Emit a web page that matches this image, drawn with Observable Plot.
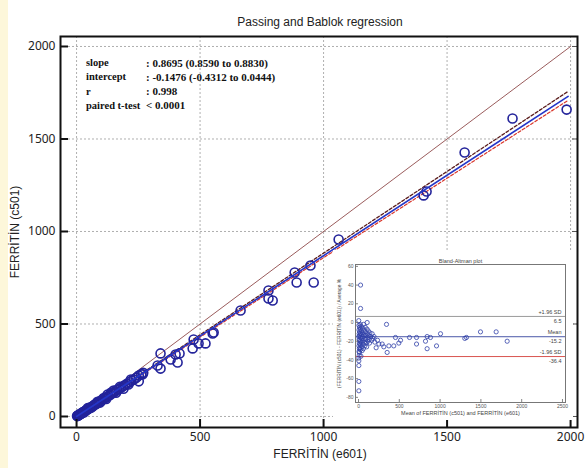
<!DOCTYPE html>
<html><head><meta charset="utf-8">
<script src="https://cdn.jsdelivr.net/npm/d3@7"></script>
<script src="https://cdn.jsdelivr.net/npm/@observablehq/plot@0.6"></script>
<style>
body{margin:0;background:#fff;}
#wrap{position:relative;width:585px;height:468px;overflow:hidden;font-family:Arial,"Liberation Sans",sans-serif;background:#fff;}
#strip{position:absolute;left:0;top:0;width:8px;height:468px;background:#fdf7da;}
.abs{position:absolute;white-space:nowrap;}
#title{left:0;width:640px;top:15px;text-align:center;font-size:12px;color:#222;}
#xlab{left:0;width:640px;top:447px;text-align:center;font-size:12px;color:#222;}
#ylab{left:15px;top:232px;font-size:12px;color:#222;transform:translate(-50%,-50%) rotate(-90deg);}
.st{font-family:"Liberation Serif","Times New Roman",serif;font-weight:bold;font-size:10.5px;color:#111;}
.sv{font-size:11px;}
#inset{position:absolute;left:333px;top:250px;}
</style></head><body><div id="wrap"><div id="strip"></div></div>
<script>
// ---- data ----
const e601 = [2,4,5,7,9,11,12,14,16,18,20,22,25,27,30,33,36,40,43,47,50,54,58,62,66,70,75,80,85,90,95,100,106,112,118,124,130,137,144,150,158,165,172,180,188,196,205,214,222,232,242,252,262,270,
  30,45,60,85,95,110,120,125,140,150,160,175,190,210,220,252,268,
  328,340,340,381,401,409,417,470,474,494,522,551,555,664,777,777,794,883,891,947,960,1061,1405,1417,1571,1765,1984];
const c501 = [2,3,5,6,8,9,11,12,13,15,17,20,21,24,26,28,31,35,36,41,43,47,50,52,57,60,66,68,74,78,81,88,90,97,103,107,112,118,126,130,136,145,148,155,163,170,178,185,193,200,210,221,228,236,
  22,45,48,80,75,100,95,118,130,140,128,160,150,173,200,190,228,
  276,259,341,308,335,292,341,368,416,395,395,449,454,573,681,638,627,778,724,816,724,957,1195,1216,1427,1611,1659];
const statLabels = ["slope","intercept","r","paired t-test"];
const statValues = [":  0.8695 (0.8590 to 0.8830)", ": -0.1476 (-0.4312 to 0.0444)", ": 0.998", "< 0.0001"];
const slope = 0.8695, intercept = -0.1476;
const slopeLo = 0.8590, interceptLo = -0.4312;
const slopeHi = 0.8830, interceptHi = 0.0444;
const lineRange = [0, 1990];
const identityRange = [0, 2000];
const xTicks = [0,500,1000,1500,2000];
const yTicks = [0,500,1000,1500,2000];

// Bland-Altman inset
const baMean = [3,5,6,8,4,7,9,5,10,6,8,4,4,4,12,14,15,13,16,18,12,20,22,24,26,21,28,23,30,32,35,38,40,36,42,45,48,50,53,55,58,60,62,65,68,72,75,78,82,85,88,92,96,100,104,108,112,116,106,120,125,130,135,140,150,160,167,175,190,200,216,233,250,290,310,343,351,372,432,453,494,515,625,711,711,821,841,841,882,956,1005,1303,1323,1495,1687,1822,25,25,4,4];
const baDiff = [2,-3,-8,-12,-15,-18,-22,-25,-28,-31,-35,-38,-41,-46,-5,-10,-14,-19,-23,-27,-32,-2,-7,-12,-16,-20,-24,-29,-36,-4,-9,-13,-17,-21,-26,-30,-6,-11,-15,-19,-23,-28,-2,-8,-13,-17,-21,-25,-5,-10,-14,-18,-22,-26,-7,-12,-16,-20,0,-9,-14,-18,-22,-11,-15,-19,-12,-17,-15,-21,-27,-19,-23,-23,-26,-2,-32,-25,-25,-16,-22,-19,-16,-16,-23,-20,-15,-28,-16,-25,-12,-17,-16,-10,-10,-20,40,15,-63,-73];
const baLineLabels = ["+1.96 SD","Mean","-1.96 SD"];
const baLineValues = [6.5,-15.2,-36.4];
const baLineColors = ["#9a9a9a","#4b58a8","#d9534f"];
const baXTicks = [0,500,1000,1500,2000,2500];
const baYTicks = [60,40,20,0,-20,-40,-60,-80];

const fmt = d => String(d);

// ---- main chart ----
const pts = e601.map((x,i)=>({x, y:c501[i]}));
const W = 585, H = 468, mL = 60, mR = 8, mT = 36, mB = 41;
const fw = W-mL-mR, fh = H-mT-mB;
const main = Plot.plot({
  width: W, height: H,
  marginLeft: mL, marginRight: mR, marginTop: mT, marginBottom: mB,
  style: {background: "transparent", overflow: "visible"},
  x: {domain: [-65, 2028]},
  y: {domain: [-59.5, 2054]},
  marks: [
    Plot.gridX(xTicks, {stroke: "#9a9a9a", strokeOpacity: 1, strokeDasharray: "2,2", strokeWidth: 0.8}),
    Plot.gridY(yTicks, {stroke: "#9a9a9a", strokeOpacity: 1, strokeDasharray: "2,2", strokeWidth: 0.8}),
    Plot.line(identityRange, {x: d=>d, y: d=>d, stroke: "#8e4a4a", strokeWidth: 0.9}),
    Plot.line(lineRange, {x: d=>d, y: d=>slopeHi*d+interceptHi, stroke: "#5a1c1c", strokeWidth: 1.3, strokeDasharray: "3,2"}),
    Plot.line(lineRange, {x: d=>d, y: d=>slopeLo*d+interceptLo, stroke: "#d9362b", strokeWidth: 1.2, strokeDasharray: "3,2"}),
    Plot.dot(pts, {x: "x", y: "y", r: 4.5, stroke: "#23239a", strokeWidth: 1.6, fill: "none"}),
    Plot.line(lineRange, {x: d=>d, y: d=>slope*d+intercept, stroke: "#2436c8", strokeWidth: 1.6}),
    Plot.ruleX(xTicks, {x: d=>d, insetTop: fh-8, stroke: "#111", strokeWidth: 2}),
    Plot.ruleY(yTicks, {y: d=>d, insetRight: fw-8, stroke: "#111", strokeWidth: 2}),
    Plot.ruleY(yTicks, {y: d=>d, insetLeft: fw-5, stroke: "#555", strokeWidth: 1}),
    Plot.axisX({ticks: xTicks, tickSize: 0, tickPadding: 5, tickFormat: fmt, label: null, fontSize: 12, color: "#222"}),
    Plot.axisY({ticks: yTicks, tickSize: 0, tickPadding: 5, tickFormat: fmt, label: null, fontSize: 12, color: "#222"}),
    Plot.frame({stroke: "#111", strokeWidth: 2})
  ]
});
const wrap = document.getElementById("wrap");
wrap.appendChild(main);
main.style.position = "absolute"; main.style.left = "0px"; main.style.top = "0px";

function addDiv(id, cls, text, css) {
  const d = document.createElement("div");
  if (id) d.id = id;
  d.className = "abs " + (cls||"");
  d.textContent = text;
  Object.assign(d.style, css||{});
  wrap.appendChild(d);
  return d;
}
addDiv("title", "", "Passing and Bablok regression");
addDiv("xlab", "", "FERRİTİN (e601)");
addDiv("ylab", "", "FERRİTİN (c501)");
statLabels.forEach((s,i)=>{
  addDiv(null, "st", s, {left: "86px", top: (57 + i*14.3) + "px"});
  addDiv(null, "st sv", statValues[i], {left: "146px", top: (56.5 + i*14.3) + "px"});
});

// ---- inset Bland-Altman ----
const baPts = baMean.map((x,i)=>({x, y: baDiff[i]}));
const baLines = baLineLabels.map((l,i)=>({label:l, value: baLineValues[i], color: baLineColors[i]}));
const iw = 240, ih = 170;
const inset = Plot.plot({
  width: iw, height: ih,
  marginLeft: 22, marginRight: 8, marginTop: 14, marginBottom: 18,
  style: {background: "#fff", overflow: "visible", fontFamily: "Arial, 'Liberation Sans', sans-serif"},
  x: {domain: [-37, 2537]},
  y: {domain: [-85.5, 62]},
  marks: [
    Plot.ruleY(baLines, {y: "value", stroke: "color", strokeWidth: 1}),
    Plot.dot(baPts, {x: "x", y: "y", r: 2.1, stroke: "#3040a8", strokeWidth: 0.8, fill: "none"}),
    Plot.text(baLines, {y: "value", text: "label", frameAnchor: "right", textAnchor: "end", dx: -4, dy: -4, fontSize: 5.5, fill: "#444"}),
    Plot.text(baLines, {y: "value", text: d=>d.value.toFixed(1), frameAnchor: "right", textAnchor: "end", dx: -4, dy: 4.5, fontSize: 5.5, fill: "#444"}),
    Plot.ruleX(baXTicks, {x: d=>d, insetTop: ih-14-18-3, stroke: "#666", strokeWidth: 0.8}),
    Plot.ruleY(baYTicks, {y: d=>d, insetRight: iw-22-8-3, stroke: "#666", strokeWidth: 0.8}),
    Plot.axisX({ticks: baXTicks, tickSize: 0, tickPadding: 2, tickFormat: fmt, label: null, fontSize: 5, color: "#555"}),
    Plot.axisY({ticks: baYTicks, tickSize: 0, tickPadding: 2, tickFormat: fmt, label: null, fontSize: 5, color: "#555"}),
    Plot.text(["Bland-Altman plot"], {frameAnchor: "top", dy: -5, fontSize: 5.5, fill: "#444"}),
    Plot.text(["Mean of FERRİTİN (c501) and FERRİTİN (e601)"], {frameAnchor: "bottom", dy: 12, fontSize: 5.5, fill: "#444"}),
    Plot.text(["(FERRİTİN (c501) - FERRİTİN (e601)) / Average %"], {frameAnchor: "left", textAnchor: "middle", dx: -16, rotate: -90, fontSize: 4.8, fill: "#444"}),
    Plot.frame({stroke: "#777", strokeWidth: 1})
  ]
});
inset.id = "inset";
wrap.appendChild(inset);
</script>
</body></html>
